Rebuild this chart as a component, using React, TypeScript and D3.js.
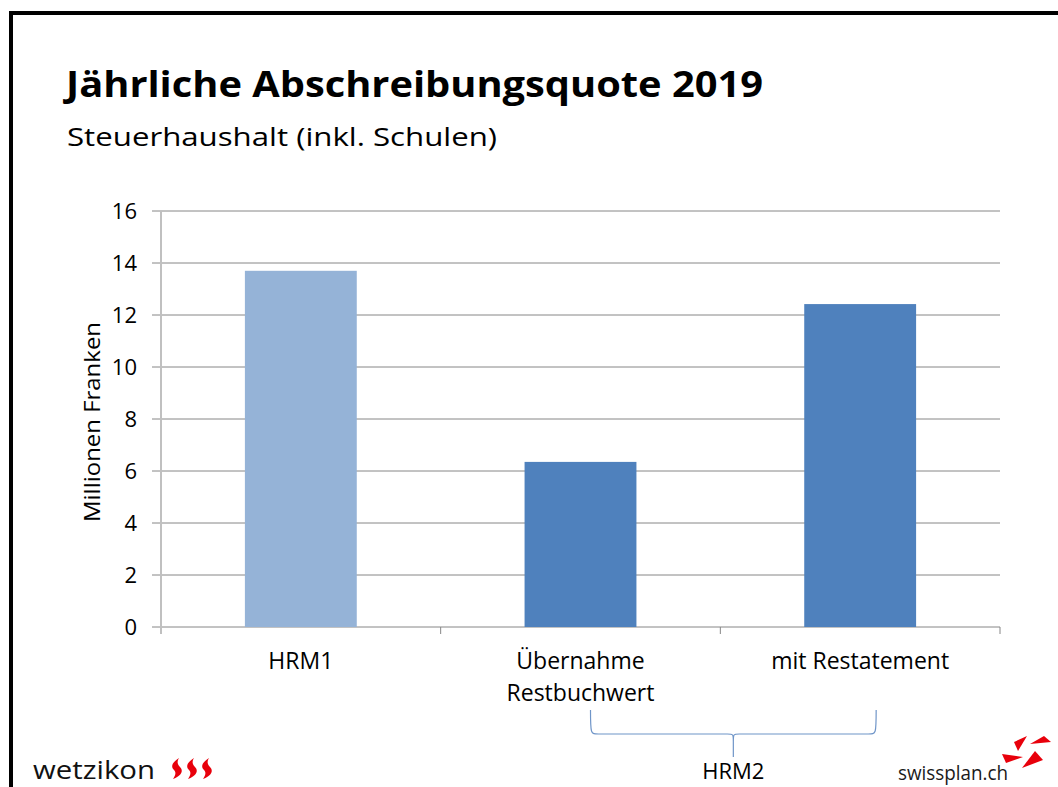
import React from 'react';
import { scaleLinear, scaleBand, range } from 'd3';

const categories = ['HRM1', 'Übernahme Restbuchwert', 'mit Restatement'];
const values = [13.7, 6.35, 12.42];
const barColors = ['#95B3D7', '#4F81BD', '#4F81BD'];
const yTicks = [0, 2, 4, 6, 8, 10, 12, 14, 16];

const FONT = "'Open Sans', 'Noto Sans', sans-serif";

function App() {
  const x = scaleBand().domain(categories).range([161, 1000]).padding(0);
  const y = scaleLinear().domain([0, 16]).range([627, 211]);
  const barW = x.bandwidth() * 0.4;
  const bandEdges = range(categories.length + 1).map(i => 161 + i * x.step());

  // brace under the two HRM2 categories
  const bx0 = (x(categories[1]) as number) + x.bandwidth() / 2 + 10;
  const bx1 = (x(categories[2]) as number) + x.bandwidth() / 2 + 16;
  const bmid = (bx0 + bx1) / 2;
  const braceTop = 710, braceY = 734;
  const brace = `M${bx0},${braceTop} C${bx0},${braceY} ${bx0},${braceY} ${bx0 + 8},${braceY}
    L${bmid - 6},${braceY} C${bmid},${braceY} ${bmid},${braceY} ${bmid},${braceY + 8} L${bmid},${braceY + 23}
    M${bmid},${braceY + 8} C${bmid},${braceY} ${bmid},${braceY} ${bmid + 6},${braceY}
    L${bx1 - 8},${braceY} C${bx1},${braceY} ${bx1},${braceY} ${bx1},${braceTop}`;

  const flame = 'M8,0 C2,4 -1,8 3,12 C5,14 5,17 2,21 C10,18 13,13 9,9 C6,6 6,3 8,0 Z';

  return (
    <svg width={1058} height={787} style={{ position: 'absolute', left: 0, top: 0, background: '#fff' }}
      fontFamily={FONT}>
      {/* slide frame */}
      <rect x={9} y={11} width={1058} height={4} fill="#000" />
      <rect x={9} y={11} width={4} height={787} fill="#000" />

      <text x={66} y={97} fontSize={35} fontWeight={700} fill="#000" textLength={697}
        lengthAdjust="spacingAndGlyphs">Jährliche Abschreibungsquote 2019</text>
      <text x={67} y={146} fontSize={26} fill="#000" textLength={430}
        lengthAdjust="spacingAndGlyphs">Steuerhaushalt (inkl. Schulen)</text>

      {/* grid */}
      {yTicks.map(t => (
        <g key={t}>
          <line x1={152} x2={1000} y1={y(t)} y2={y(t)} stroke="#868686" strokeWidth={1} />
          <text x={137} y={y(t)} dy="0.36em" textAnchor="end" fontSize={22} fill="#000">{t}</text>
        </g>
      ))}
      <line x1={161} x2={161} y1={211} y2={634} stroke="#c0c0c0" strokeWidth={2} />
      {bandEdges.slice(1).map(e => (
        <line key={e} x1={e} x2={e} y1={627} y2={634} stroke="#868686" strokeWidth={1} />
      ))}

      {/* bars */}
      {categories.map((c, i) => (
        <rect key={c} x={(x(c) as number) + (x.bandwidth() - barW) / 2} y={y(values[i])}
          width={barW} height={y(0) - y(values[i])} fill={barColors[i]} />
      ))}

      {/* category labels */}
      {categories.map(c => {
        const cx = (x(c) as number) + x.bandwidth() / 2;
        const lines = c === 'Übernahme Restbuchwert' ? ['Übernahme', 'Restbuchwert'] : [c];
        return lines.map((l, j) => (
          <text key={c + j} x={cx} y={669 + j * 32} textAnchor="middle" fontSize={23} fill="#000">{l}</text>
        ));
      })}

      <text transform="translate(100,422) rotate(-90)" textAnchor="middle" fontSize={22} fill="#000"
        textLength={200} lengthAdjust="spacingAndGlyphs">Millionen Franken</text>

      <path d={brace} fill="none" stroke="#6f95c8" strokeWidth={1.2} />
      <text x={bmid} y={779} textAnchor="middle" fontSize={22} fill="#000">HRM2</text>

      {/* logos */}
      <text x={33} y={779} fontSize={25} fontWeight={500} fill="#111" textLength={122}
        lengthAdjust="spacingAndGlyphs">wetzikon</text>
      {[171, 186, 201].map(px => (
        <path key={px} d={flame} transform={`translate(${px},758)`} fill="#e8000b" />
      ))}
      <g fill="#e8000b">
        <path d="M1014,742 L1027,736 L1018,751 Z" />
        <path d="M1030,744 L1044,736 L1051,742 Z" />
        <path d="M1002,754 L1023,757 L1006,763 Z" />
        <path d="M1022,768 L1035,751 L1043,760 Z" />
      </g>
      <text x={898} y={780} fontSize={20} fill="#1a1a1a" textLength={110} lengthAdjust="spacingAndGlyphs">swissplan.ch</text>
    </svg>
  );
}

export default App;
